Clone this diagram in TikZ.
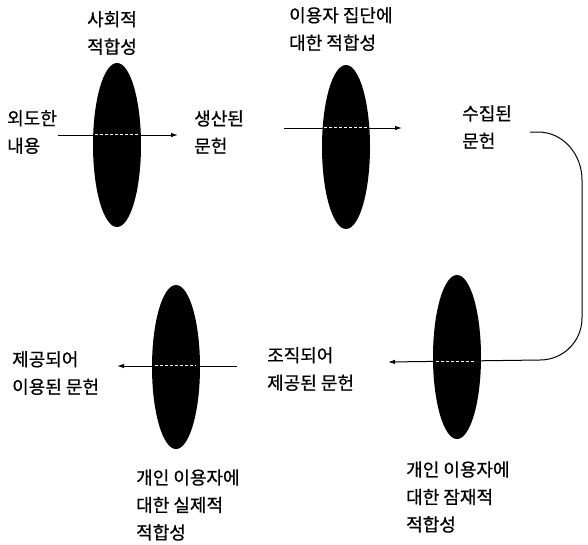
\documentclass[tikz,border=0pt]{standalone}
\usepackage{fontspec}
\newfontfamily\kr[FakeBold=0.6]{Noto Sans CJK KR}
\usetikzlibrary{arrows.meta,shapes.geometric}
\begin{document}
\begin{tikzpicture}[x=1pt,y=-1pt,
  lens/.style={ellipse,fill=black,draw=none,inner sep=0pt,minimum width=48pt,minimum height=164pt},
  lbl/.style={font=\kr\fontsize{18}{27.5}\selectfont,align=left,inner sep=0pt},
  lblc/.style={lbl,align=center},
  arr/.style={line width=1pt,-{Latex[length=7pt,width=4.5pt]}},
  glint/.style={white,line width=0.6pt,densely dashed}]
\useasboundingbox (0,0) rectangle (588,544);
% lenses
\node[lens] (e1) at (117,145) {};
\node[lens] (e2) at (346,147) {};
\node[lens] (e3) at (176,367) {};
\node[lens] (e4) at (457,357) {};
% labels
\node[lblc] (social) at (112,33) {사회적\\적합성};
\node[lbl,anchor=west] (intent) at (7,132) {외도한\\내용};
\node[lbl,anchor=west] (produced) at (194,132) {생산된\\문헌};
\node[lbl,anchor=west] (group) at (289,29) {이용자 집단에\\대한 적합성};
\node[lbl,anchor=west] (collected) at (462,127) {수집된\\문헌};
\node[lbl,anchor=west] (organized) at (267,369) {조직되어\\제공된 문헌};
\node[lbl,anchor=west] (used) at (12,373) {제공되어\\이용된 문헌};
\node[lbl,anchor=west] (actual) at (136,505) {개인 이용자에\\대한 실제적\\적합성};
\node[lbl,anchor=west] (potential) at (406,497) {개인 이용자에\\대한 잠재적\\적합성};
% connector end points
\coordinate (a1s) at (58,135);
\coordinate (a1e) at (178,135);
\coordinate (a2s) at (284,128);
\coordinate (a2e) at (402,128);
\coordinate (c0) at (530,132);
\coordinate (c1) at (582,180);
\coordinate (c2) at (582,318);
\coordinate (c3) at (540,360);
\coordinate (a4e) at (388,362);
\coordinate (a3s) at (237,366);
\coordinate (a3e) at (117,366);
% connectors
\draw[arr] (a1s) -- (a1e);
\draw[arr] (a2s) -- (a2e);
\draw[arr] (c0) -- ++(8,0) to[out=0,in=90] (c1) -- (c2) to[out=-90,in=0] (c3) -- (a4e);
\draw[arr] (a3s) -- (a3e);
% light streaks where the arrows cross the lenses
\draw[glint] (95,134.5) -- (138,134.5);
\draw[glint] (324,127.5) -- (367,127.5);
\draw[glint] (436,361) -- (476,361);
\draw[glint] (155,365.5) -- (196,365.5);
\end{tikzpicture}
\end{document}
